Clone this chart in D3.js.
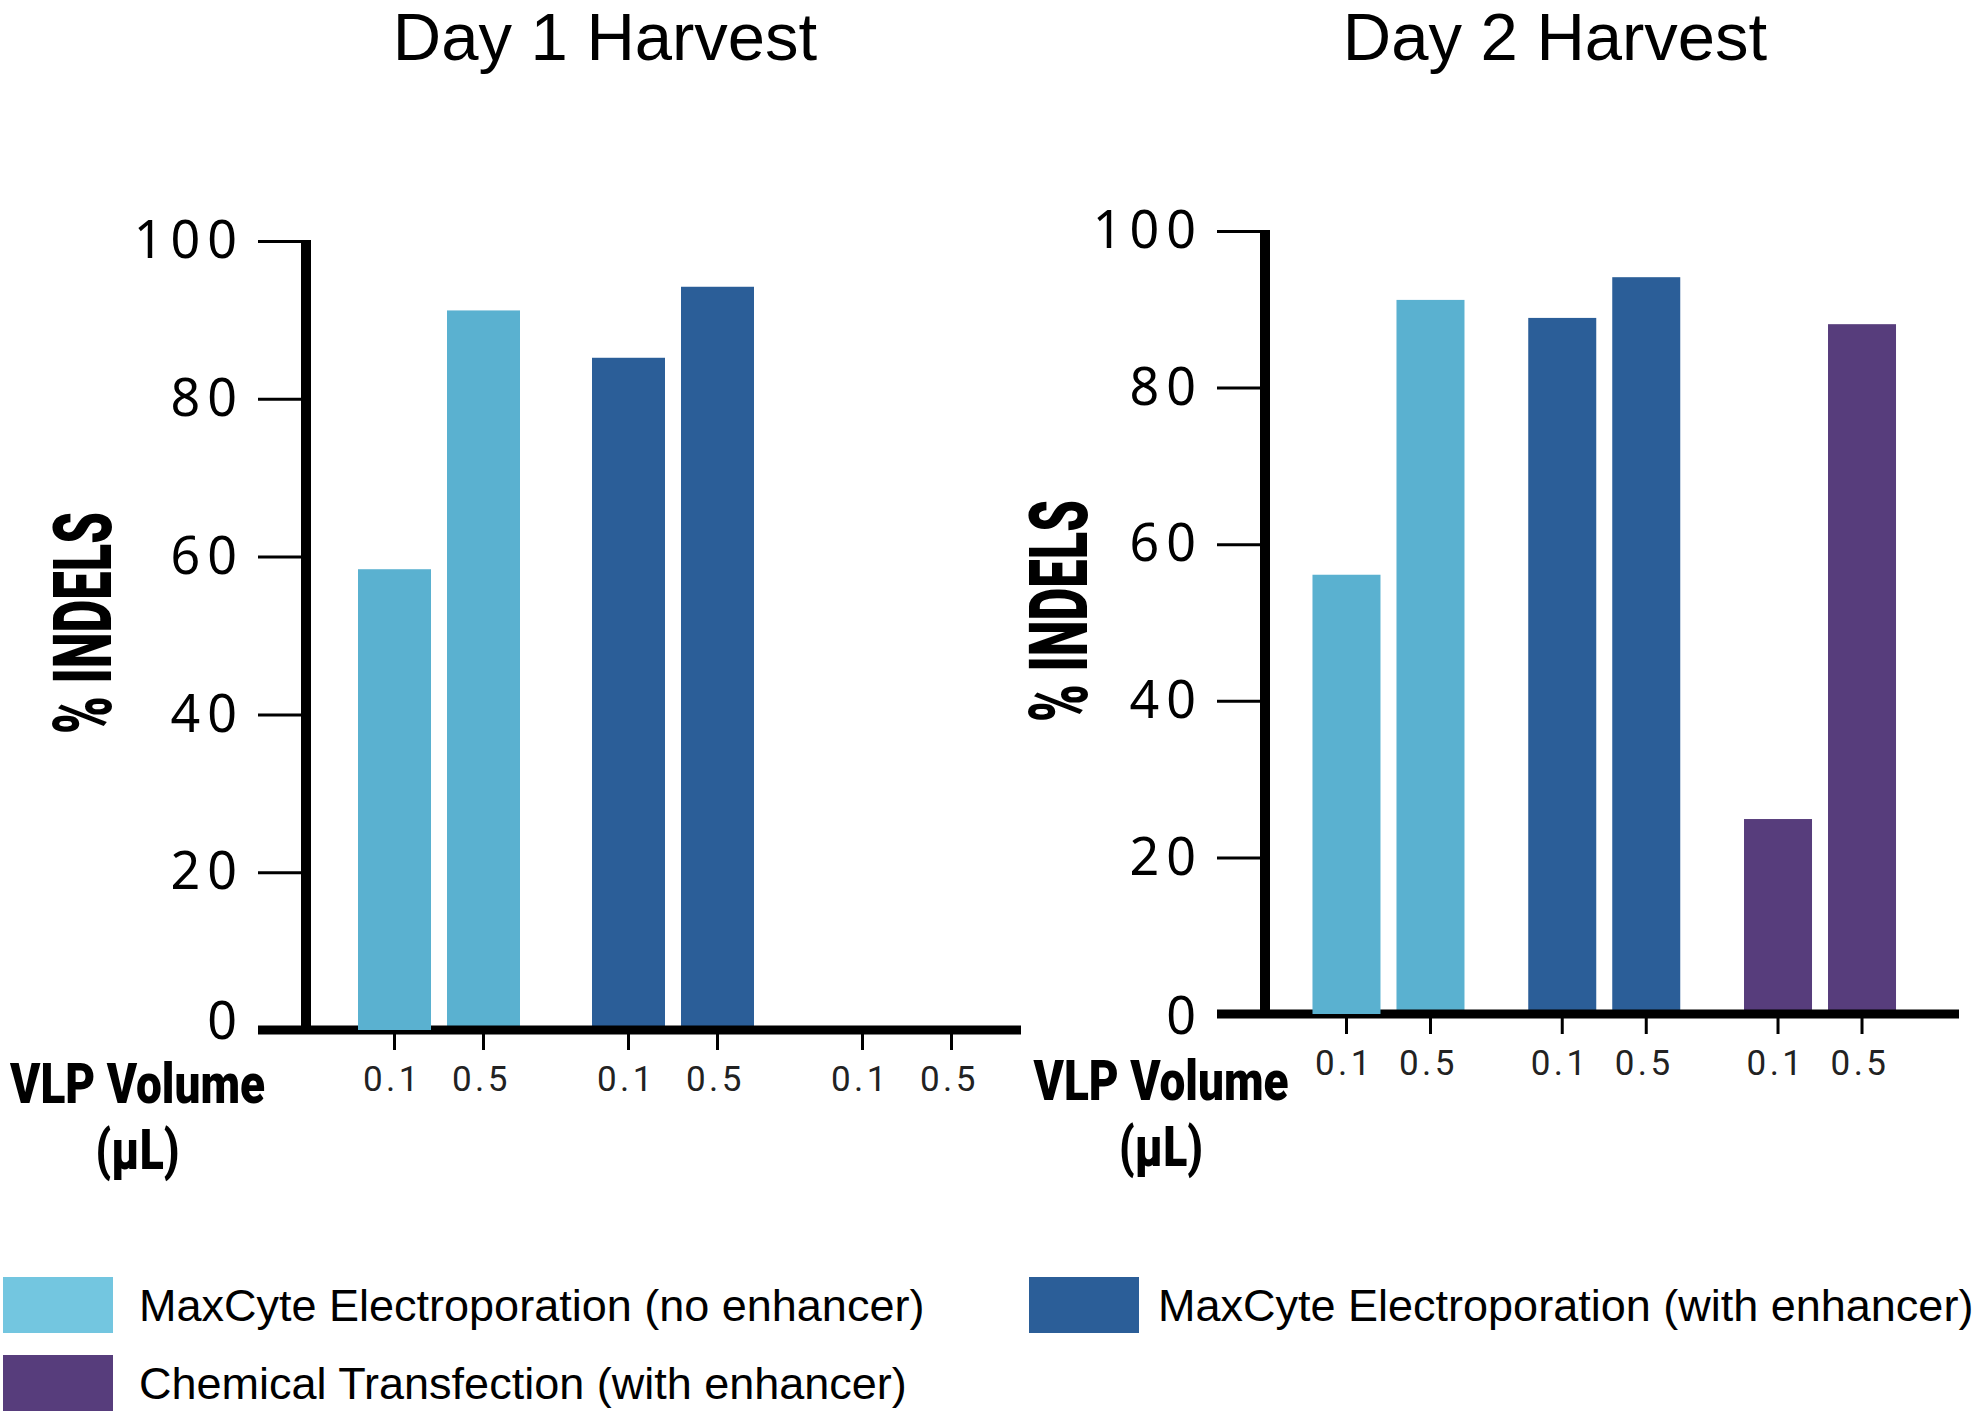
<!DOCTYPE html>
<html>
<head>
<meta charset="utf-8">
<script src="https://cdn.jsdelivr.net/npm/d3@7"></script>
<style>
  html, body { margin: 0; padding: 0; background: #ffffff; }
  svg { display: block; }
</style>
</head>
<body>
<svg id="chart" width="1982" height="1417"></svg>
<script>
// ---------------- DATA ----------------
const panelTitles = ["Day 1 Harvest", "Day 2 Harvest"];
const groups = ["noEnhancer", "withEnhancer", "chemical"];
const volumes = ["0.1", "0.5"];
const seriesNames = [
  "MaxCyte Electroporation (no enhancer)",
  "MaxCyte Electroporation (with enhancer)",
  "Chemical Transfection (with enhancer)"
];
const day1NoEnhancer   = [58.4, 91.2];
const day1WithEnhancer = [85.2, 94.2];
const day1Chemical     = [null, null];
const day2NoEnhancer   = [56.1, 91.2];
const day2WithEnhancer = [88.9, 94.1];
const day2Chemical     = [24.9, 88.1];
const yTicks = [0, 20, 40, 60, 80, 100];
const yAxisLabel = "% INDELS";
const xAxisLabelLines = ["VLP Volume", "(µL)"];

// ---------------- STYLE / LAYOUT ----------------
const barColors = ["#5AB1D0", "#2B5E98", "#573D7C"];
const legendColors = ["#73C6E0", "#2B5E98", "#573D7C"];
// in the original, the first bar of each panel is drawn over the x-axis line
const barsOverAxis = [["noEnhancer", "0.1"]];

const panels = [
  { title: panelTitles[0], values: [day1NoEnhancer, day1WithEnhancer, day1Chemical],
    axisX: 306, y0: 1030, y100: 241, gStart: 322, gEnd: 1024, innerStep: 89, barW: 73,
    xLineEnd: 1021, titleX: 605, labelX: 137.5, labelY: 1103, indelsX: 110.7, indelsY: 623,
    zeroLabelShift: -8 },
  { title: panelTitles[1], values: [day2NoEnhancer, day2WithEnhancer, day2Chemical],
    axisX: 1265, y0: 1014, y100: 231, gStart: 1280.6, gEnd: 1927.9, innerStep: 84, barW: 68,
    xLineEnd: 1959, titleX: 1555, labelX: 1161, labelY: 1100, indelsX: 1087, indelsY: 611,
    zeroLabelShift: 3 }
];

const svg = d3.select("#chart");

// condensed bold text: squeeze horizontally to a target width with a real transform
function condensedText(parent, text, x, y, size, targetW, rotate) {
  const t = parent.append("text")
    .attr("text-anchor", "middle")
    .style("font-family", "Roboto, sans-serif")
    .style("font-weight", "900")
    .style("font-size", size + "px")
    .attr("fill", "#000")
    .text(text);
  const natural = t.node().getComputedTextLength();
  const sx = targetW / natural;
  t.attr("transform", `translate(${x},${y})${rotate ? " rotate(-90)" : ""} scale(${sx},1)`);
  return t;
}

panels.forEach(p => {
  const g = svg.append("g");
  const y = d3.scaleLinear().domain([0, 100]).range([p.y0, p.y100]);
  const outer = d3.scaleBand().domain(groups).range([p.gStart, p.gEnd]).padding(0);
  const bw = outer.bandwidth();
  const pin = 1 - p.barW / p.innerStep;
  const inner = d3.scaleBand().domain(volumes)
    .range([bw / 2 - p.innerStep, bw / 2 + p.innerStep])
    .paddingInner(pin).paddingOuter(pin / 2);

  // title
  g.append("text")
    .attr("x", p.titleX).attr("y", 60)
    .attr("text-anchor", "middle")
    .style("font-family", "'Liberation Sans', Arial, sans-serif")
    .style("font-size", "67px")
    .attr("fill", "#000")
    .text(p.title);

  // bars
  const barData = [];
  groups.forEach((grp, gi) => {
    volumes.forEach((v, vi) => {
      const val = p.values[gi][vi];
      if (val != null) {
        const over = barsOverAxis.some(b => b[0] === grp && b[1] === v);
        barData.push({ grp, v, val, gi, over });
      }
    });
  });
  const drawBars = (sel, data) => sel.selectAll(null).data(data).enter().append("rect")
    .attr("x", d => outer(d.grp) + inner(d.v))
    .attr("width", inner.bandwidth())
    .attr("y", d => y(d.val))
    .attr("height", d => y(0) - y(d.val))
    .attr("fill", d => barColors[d.gi]);

  drawBars(g.append("g"), barData.filter(d => !d.over));

  // y axis
  const yAxis = d3.axisLeft(y).tickValues(yTicks).tickSize(48).tickPadding(14)
    .tickFormat(d3.format("d"));
  const ya = g.append("g").attr("transform", `translate(${p.axisX},0)`).call(yAxis);
  ya.select(".domain").remove();
  ya.selectAll(".tick line").attr("stroke", "#000").attr("stroke-width", 3);
  ya.selectAll(".tick text")
    .style("font-family", "'Noto Sans', 'Open Sans', sans-serif")
    .style("font-size", "52px")
    .style("letter-spacing", "7px")
    .attr("fill", "#000")
    .attr("y", d => d === 0 ? p.zeroLabelShift : 0);
  g.append("line")
    .attr("x1", p.axisX).attr("x2", p.axisX)
    .attr("y1", y(100) - 1).attr("y2", y(0))
    .attr("stroke", "#000").attr("stroke-width", 10);

  // x axis line
  g.append("line")
    .attr("x1", p.axisX - 48).attr("x2", p.xLineEnd)
    .attr("y1", y(0)).attr("y2", y(0))
    .attr("stroke", "#000").attr("stroke-width", 9);

  drawBars(g.append("g"), barData.filter(d => d.over));

  // x ticks and labels
  const xTickData = [];
  groups.forEach(grp => volumes.forEach(v => xTickData.push({ grp, v })));
  const cx = d => outer(d.grp) + inner(d.v) + inner.bandwidth() / 2;
  g.selectAll("line.xtick").data(xTickData).enter().append("line")
    .attr("class", "xtick")
    .attr("x1", cx).attr("x2", cx)
    .attr("y1", y(0) + 4).attr("y2", y(0) + 20)
    .attr("stroke", "#000").attr("stroke-width", 3);
  g.selectAll("text.xlab").data(xTickData).enter().append("text")
    .attr("class", "xlab")
    .attr("x", d => cx(d) - 2).attr("y", y(0) + 61)
    .attr("text-anchor", "middle")
    .style("font-family", "Roboto, sans-serif")
    .style("font-size", "35px")
    .style("letter-spacing", "3.5px")
    .attr("fill", "#222")
    .text(d => d.v);

  // x axis label (bold condensed)
  xAxisLabelLines.forEach((t, i) => {
    condensedText(g, t, p.labelX, p.labelY + i * 66, 56, i === 0 ? 255 : 84, false);
  });

  // y axis label
  condensedText(g, yAxisLabel, p.indelsX, p.indelsY, 81, 222, true);
});

// ---------------- LEGEND ----------------
const legendPos = [
  { x: 3, y: 1277, tx: 139 },
  { x: 1029, y: 1277, tx: 1158 },
  { x: 3, y: 1355, tx: 139 }
];
const lg = svg.append("g");
seriesNames.forEach((name, i) => {
  const lp = legendPos[i];
  lg.append("rect")
    .attr("x", lp.x).attr("y", lp.y).attr("width", 110).attr("height", 56)
    .attr("fill", legendColors[i]);
  lg.append("text")
    .attr("x", lp.tx).attr("y", lp.y + 44)
    .style("font-family", "'Liberation Sans', Arial, sans-serif")
    .style("font-size", "45px")
    .attr("fill", "#000")
    .text(name);
});
</script>
</body>
</html>
